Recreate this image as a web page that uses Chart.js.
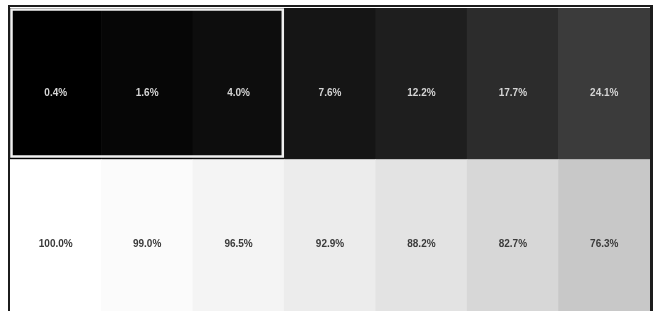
<!DOCTYPE html>
<html>
<head>
<meta charset="utf-8">
<script src="https://cdn.jsdelivr.net/npm/chart.js@4/dist/chart.umd.min.js"></script>
<style>
  html, body { margin: 0; padding: 0; background: #ffffff; }
  #wrap { width: 659px; height: 311px; position: relative; }
</style>
</head>
<body>
<div id="wrap"><canvas id="grid"></canvas></div>
<script>
/* grey steps - two rows of 7 cells */

const steps = ['1', '2', '3', '4', '5', '6', '7'];
const topValues = [0.4, 1.6, 4.0, 7.6, 12.2, 17.7, 24.1];
const bottomValues = [100.0, 99.0, 96.5, 92.9, 88.2, 82.7, 76.3];
const highlighted = [0, 1, 2];

// cell shades
const topColors = ['#000000', '#060606', '#0d0d0d', '#151515', '#1e1e1e', '#2c2c2c', '#3b3b3b'];
const bottomColors = ['#ffffff', '#fbfbfb', '#f4f4f4', '#ececec', '#e3e3e3', '#d7d7d7', '#c8c8c8'];

const FRAME = '#1c1c1c';

// each cell is one unit tall, stacked: bottom row then top row
const cellPlugin = {
  id: 'cells',
  afterDatasetsDraw(chart) {
    const ctx = chart.ctx;
    const area = chart.chartArea;
    ctx.save();

    // labels
    ctx.font = 'bold 10px "Liberation Sans", Arial, sans-serif';
    ctx.textAlign = 'center';
    ctx.textBaseline = 'middle';
    chart.data.datasets.forEach((ds, di) => {
      const meta = chart.getDatasetMeta(di);
      meta.data.forEach((bar, i) => {
        const cy = (bar.y + bar.base) / 2 + 9;
        ctx.fillStyle = ds.textColor;
        ctx.fillText(ds.values[i].toFixed(1) + '%', bar.x, cy);
      });
    });

    // white box round the highlighted cells
    const topMeta = chart.getDatasetMeta(1);
    const first = topMeta.data[highlighted[0]];
    const last = topMeta.data[highlighted[highlighted.length - 1]];
    const x0 = first.x - first.width / 2 + 1.5;
    const x1 = last.x + last.width / 2 - 1.5;
    const y0 = first.y + 1.5;
    const y1 = first.base - 3;
    ctx.strokeStyle = '#f0f0f0';
    ctx.lineWidth = 2.5;
    ctx.strokeRect(x0, y0, x1 - x0, y1 - y0);

    // outer frame (top, left, right)
    ctx.fillStyle = FRAME;
    ctx.fillRect(area.left - 2, area.top - 3, area.right - area.left + 5, 2);
    ctx.fillRect(area.left - 2, area.top - 3, 2, chart.height);
    ctx.fillRect(area.right, area.top - 3, 3, chart.height);
    ctx.restore();
  }
};

new Chart(document.getElementById('grid').getContext('2d'), {
  type: 'bar',
  data: {
    labels: steps,
    datasets: [
      {
        label: 'bottom',
        data: bottomValues.map(() => 1),
        values: bottomValues,
        backgroundColor: bottomColors,
        textColor: '#3a3a3a',
        borderWidth: 0,
        categoryPercentage: 1,
        barPercentage: 1
      },
      {
        label: 'top',
        data: topValues.map(() => 1),
        values: topValues,
        backgroundColor: topColors,
        textColor: '#d4d4d4',
        borderWidth: 0,
        categoryPercentage: 1,
        barPercentage: 1
      }
    ]
  },
  options: {
    responsive: true,
    maintainAspectRatio: false,
    animation: false,
    layout: { padding: { left: 10, right: 9, top: 8, bottom: -3 } },
    scales: {
      x: { stacked: true, display: false, grid: { display: false } },
      y: { stacked: true, display: false, min: 0, max: 2, grid: { display: false } }
    },
    plugins: {
      legend: { display: false },
      tooltip: { enabled: false }
    }
  },
  plugins: [cellPlugin]
});
</script>
</body>
</html>
